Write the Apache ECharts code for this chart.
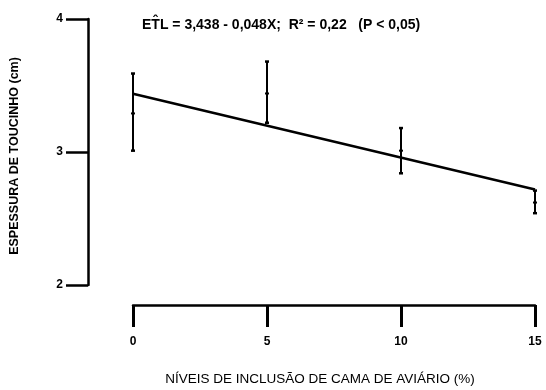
<!DOCTYPE html>
<html>
<head>
<meta charset="utf-8">
<script src="https://cdn.jsdelivr.net/npm/echarts@6/dist/echarts.min.js"></script>
<style>html,body{margin:0;padding:0;background:#fff}#c{width:546px;height:390px}</style>
</head>
<body>
<div id="c"></div>
<script>
// Data
var levels = [0, 5, 10, 15];
var means  = [3.29, 3.44, 3.01, 2.62];
var upper  = [3.59, 3.68, 3.18, 2.71];
var lower  = [3.01, 3.22, 2.84, 2.54];
var regX = [0, 15];
var regY = [3.438, 2.718];
var xTicks = [0, 5, 10, 15];
var yTicks = [2, 3, 4];
var equation = 'ET\u0302L = 3,438 - 0,048X;  R\u00B2 = 0,22   (P < 0,05)';
var xTitle = 'N\u00CDVEIS DE INCLUS\u00C3O DE CAMA DE AVI\u00C1RIO (%)';
var yTitle = 'ESPESSURA DE TOUCINHO (cm)';

var errData = levels.map(function (x, i) { return [x, means[i], upper[i], lower[i]]; });
var regData = regX.map(function (x, i) { return [x, regY[i]]; });

var chart = echarts.init(document.getElementById('c'), null, {renderer: 'canvas'});
var font = '"Liberation Sans", Arial, sans-serif';
chart.setOption({
  animation: false,
  backgroundColor: '#fff',
  grid: {left: 133, right: 11, top: 19, bottom: 105},
  xAxis: {
    type: 'value', min: xTicks[0], max: xTicks[xTicks.length - 1], interval: 5, offset: 20,
    axisLine: {show: true, onZero: false, lineStyle: {color: '#000', width: 2.5}},
    axisTick: {show: true, length: 22, lineStyle: {color: '#000', width: 3}},
    axisLabel: {margin: 31, color: '#000', fontFamily: font, fontWeight: 'bold', fontSize: 12},
    splitLine: {show: false}
  },
  yAxis: {
    type: 'value', min: yTicks[0], max: yTicks[yTicks.length - 1], interval: 1, offset: 45,
    axisLine: {show: true, onZero: false, lineStyle: {color: '#000', width: 2.5}},
    axisTick: {show: true, length: 22, lineStyle: {color: '#000', width: 2.5}},
    axisLabel: {margin: 25, color: '#000', fontFamily: font, fontWeight: 'bold', fontSize: 12},
    splitLine: {show: false}
  },
  graphic: [
    {type: 'text', left: 142, top: 18, style: {text: equation, fill: '#000', font: 'bold 14px ' + font}},
    {type: 'text', x: 320, y: 379, style: {text: xTitle, fill: '#000', font: '13.5px ' + font, textAlign: 'center', textVerticalAlign: 'middle'}},
    {type: 'text', x: 15, y: 156, rotation: Math.PI / 2, style: {text: yTitle, fill: '#000', font: 'bold 12.5px ' + font, textAlign: 'center', textVerticalAlign: 'middle'}}
  ],
  series: [
    {
      type: 'line', data: regData, showSymbol: false, symbol: 'none',
      lineStyle: {color: '#000', width: 2.5}, z: 3
    },
    {
      type: 'custom', data: errData, z: 4,
      renderItem: function (params, api) {
        var x = api.value(0);
        var pm = api.coord([x, api.value(1)]);
        var pu = api.coord([x, api.value(2)]);
        var pl = api.coord([x, api.value(3)]);
        var c = 2;
        var st = {stroke: '#000', lineWidth: 2};
        return {
          type: 'group',
          children: [
            {type: 'line', shape: {x1: pu[0], y1: pu[1], x2: pl[0], y2: pl[1]}, style: st},
            {type: 'line', shape: {x1: pu[0] - c, y1: pu[1], x2: pu[0] + c, y2: pu[1]}, style: {stroke: '#000', lineWidth: 2.5}},
            {type: 'line', shape: {x1: pl[0] - c, y1: pl[1], x2: pl[0] + c, y2: pl[1]}, style: {stroke: '#000', lineWidth: 2.5}},
            {type: 'line', shape: {x1: pm[0] - c, y1: pm[1], x2: pm[0] + c, y2: pm[1]}, style: {stroke: '#000', lineWidth: 2}}
          ]
        };
      }
    }
  ]
});
</script>
</body>
</html>
